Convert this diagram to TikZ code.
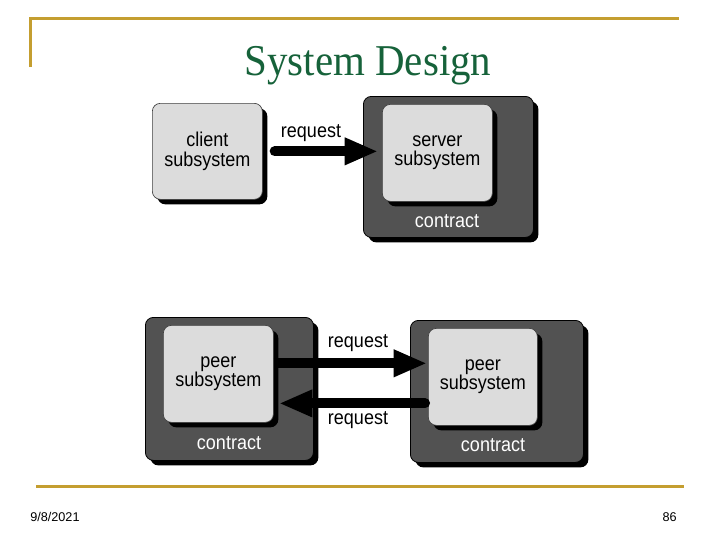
\documentclass[tikz,border=0pt]{standalone}
\usepackage{fontspec}
\setmainfont{Liberation Sans}
\newfontfamily\diagfont[FakeStretch=0.9]{Liberation Sans}
\newfontfamily\titlefont[FakeStretch=0.93]{Liberation Serif}
\usetikzlibrary{arrows.meta,shadows}
\definecolor{gold}{RGB}{196,158,48}
\definecolor{ttl}{RGB}{22,98,58}
\definecolor{lite}{RGB}{220,220,220}
\definecolor{darkc}{RGB}{82,82,82}
\begin{document}
\begin{tikzpicture}[x=0.75pt,y=-0.75pt,
 sz/.style 2 args={minimum width=#1*0.75pt, minimum height=#2*0.75pt},
 shadowed/.style={drop shadow={shadow xshift=3.75pt,shadow yshift=-3.75pt,fill=black,opacity=1}},
 contractbox/.style={shadowed,draw=black,fill=darkc,rounded corners=6pt,anchor=north west,inner sep=0pt,line width=0.6pt},
 subbox/.style={shadowed,draw=black!75,fill=lite,rounded corners=6pt,anchor=north west,inner sep=0pt,align=center,font=\diagfont\fontsize{15}{14.5}\selectfont,line width=0.5pt},
 lbl/.style={font=\diagfont\fontsize{15}{14.5}\selectfont,inner sep=0pt},
 ctr/.style={lbl,text=white},
 bigarrow/.style={line width=7.5pt,-{Triangle[length=25pt,width=19pt]}},
 rule/.style={draw=gold,line width=2.25pt}]
\useasboundingbox (0,0) rectangle (720,540);

% frame rules
\draw[rule] (30,67) -- (30,18) -- (679,18);
\draw[rule] (36,486) -- (684,486);

% title
\node (title) [anchor=base, font=\titlefont\fontsize{33}{33}\selectfont, text=ttl] at (368,75) {System Design};

% footer
\node (date) [anchor=base west, inner sep=0pt, font=\fontsize{9.5}{10}\selectfont] at (30,521) {9/8/2021};
\node (pg) [anchor=base east, inner sep=0pt, font=\fontsize{9.5}{10}\selectfont] at (677,521) {86};

% top diagram
\node (client) [subbox, sz={110}{96}] at (152,103) {client\\subsystem};
\node (srvC) [contractbox, sz={170}{141}] at (363,96) {};
\node (srv) [subbox, sz={110}{97}] at (382,104) {server\\subsystem};
\node (srvCt) [ctr] at (447,221) {contract};
\node (req1) [lbl] at (311,133) {request};
\draw[bigarrow, line cap=round] ([xshift=9pt]client.east) -- ([xshift=-3pt]client.east -| srv.west);

% bottom diagram
\node (peerLC) [contractbox, sz={168}{143}] at (145,317) {};
\node (peerL) [subbox, sz={110}{97}] at (163,325) {peer\\subsystem};
\node (peerLCt) [ctr] at (229,443) {contract};
\node (peerRC) [contractbox, sz={173}{142}] at (410,320) {};
\node (peerR) [subbox, sz={109}{97}] at (428,328) {peer\\subsystem};
\node (peerRCt) [ctr] at (493,445) {contract};
\node (req2) [lbl] at (358,343) {request};
\node (req3) [lbl] at (358,420) {request};
\draw[bigarrow, line cap=butt] ([yshift=7.9pt]peerL.east) -- ([yshift=7.9pt,xshift=-0.75pt]peerL.east -| peerR.west);
\draw[bigarrow, line cap=round] ([yshift=-19.9pt,xshift=-2.25pt]peerR.west) -- ([yshift=-19.9pt,xshift=4pt]peerR.west -| peerL.east);
\end{tikzpicture}
\end{document}
